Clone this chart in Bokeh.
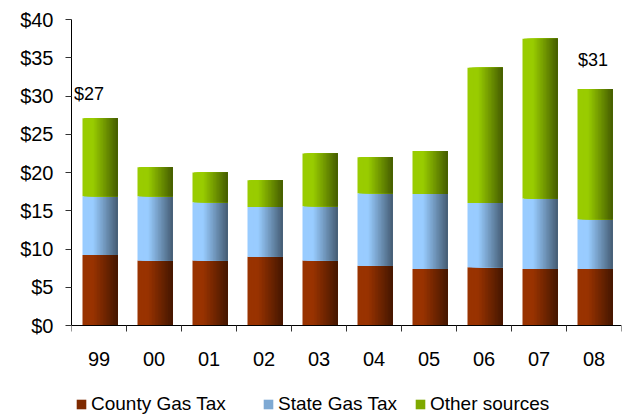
import numpy as np
from bokeh.plotting import figure
from bokeh.models import (ColumnDataSource, Range1d, FixedTicker, PrintfTickFormatter,
                          Legend, LegendItem)
from bokeh.core.properties import value
from bokeh.embed import file_html
from bokeh.resources import INLINE

# ---- data ----
categories = ["99", "00", "01", "02", "03", "04", "05", "06", "07", "08"]
county = [9.2, 8.5, 8.5, 9.0, 8.5, 7.8, 7.4, 7.6, 7.4, 7.4]
state = [7.7, 8.4, 7.6, 6.5, 7.1, 9.5, 9.8, 8.4, 9.2, 6.5]
other = [10.2, 3.8, 3.9, 3.5, 6.9, 4.7, 5.6, 17.7, 20.9, 17.0]
series_names = ["County Gas Tax", "State Gas Tax", "Other sources"]
y_ticks = [0, 5, 10, 15, 20, 25, 30, 35, 40]
callout_index = [0, 9]
callout_text = ["$27", "$31"]

# ---- style / layout ----
base_colors = [(153, 51, 0), (153, 204, 255), (153, 204, 0)]
FONT = "Liberation Sans"
N_STRIPS = 24
BAR_W = 0.64
BAR_SHIFT = 0.02
TOP_BORDER = 19
LEFT_BORDER = 71
PLOT_H = 306          # pixels for 0..40
FRAME_H = 396         # frame extends below zero to hold the legend
Y_MAX = 40
Y_MIN = -Y_MAX * (FRAME_H - PLOT_H) / PLOT_H

def shade(rgb, u):
    f = 1.0 if u < 0.3 else 1.0 - 0.55 * (u - 0.3) / 0.7
    r, g, b = (int(round(c * f)) for c in rgb)
    return "#%02x%02x%02x" % (r, g, b)

n = len(categories)
p = figure(width=LEFT_BORDER + 550 + 1, height=TOP_BORDER + FRAME_H,
           x_range=Range1d(0, n), y_range=Range1d(Y_MIN, Y_MAX),
           output_backend="svg", toolbar_location=None,
           min_border_left=LEFT_BORDER, min_border_right=1,
           min_border_top=TOP_BORDER, min_border_bottom=0)
p.outline_line_color = None
p.xgrid.visible = False
p.ygrid.visible = False
p.background_fill_color = "white"

stacks = [county, state, other]
bottoms = np.zeros(n)
renderers = []
sw = BAR_W / N_STRIPS
for s, vals in enumerate(stacks):
    vals = np.array(vals, dtype=float)
    tops = bottoms + vals
    xs, ws, bs, ts, cs = [], [], [], [], []
    for k in range(N_STRIPS):
        u = (k + 0.5) / N_STRIPS
        col = shade(base_colors[s], u)
        for i in range(n):
            left = i + 0.5 + BAR_SHIFT - BAR_W / 2 + k * sw
            right = i + 0.5 + BAR_SHIFT + BAR_W / 2
            xs.append((left + right) / 2)
            ws.append(right - left)
            bs.append(bottoms[i])
            ts.append(tops[i])
            cs.append(col)
    src = ColumnDataSource(dict(x=xs, w=ws, bottom=bs, top=ts, color=cs))
    r = p.vbar(x="x", bottom="bottom", top="top", width="w", source=src,
               fill_color="color", line_color=None)
    renderers.append(r)
    bottoms = tops

totals = bottoms
lab_src = ColumnDataSource(dict(
    x=[i + 0.5 for i in callout_index],
    y=[totals[i] for i in callout_index],
    text=callout_text,
    xo=[-10, -1],
    yo=[-24, -29],
))
p.text(x="x", y="y", text="text", source=lab_src, x_offset="xo", y_offset="yo",
       text_align="center", text_baseline="middle", text_font=value(FONT),
       text_font_size="18px", text_color="#000000")

# y axis
ya = p.yaxis[0]
ya.bounds = (0, Y_MAX)
ya.ticker = FixedTicker(ticks=y_ticks)
ya.formatter = PrintfTickFormatter(format="$%d")
ya.major_tick_in = 0
ya.major_tick_out = 6
ya.minor_tick_line_color = None
ya.major_label_standoff = 12
ya.major_label_text_font = FONT
ya.major_label_text_font_size = "20px"
ya.major_label_text_color = "#000000"
ya.axis_line_color = "#000000"
ya.major_tick_line_color = "#333333"

# x axis, pinned at zero
xa = p.xaxis[0]
xa.fixed_location = 0
xa.ticker = FixedTicker(ticks=[i + 0.5 for i in range(n)],
                        minor_ticks=list(range(n + 1)))
xa.major_label_overrides = {i + 0.5: c for i, c in enumerate(categories)}
xa.major_tick_line_color = None
xa.major_tick_in = 0
xa.major_tick_out = 6
xa.minor_tick_in = 0
xa.minor_tick_out = 6
xa.minor_tick_line_color = "#333333"
xa.major_label_standoff = 20
xa.major_label_text_font = FONT
xa.major_label_text_font_size = "20px"
xa.major_label_text_color = "#000000"
xa.axis_line_color = "#000000"

# legends
mid_k = N_STRIPS // 2
leg_x = [4, 191, 343]
for s in range(3):
    item = LegendItem(label=series_names[s], renderers=[renderers[s]], index=mid_k * n)
    leg = Legend(items=[item], location=(leg_x[s], 0), padding=0, margin=0,
                 spacing=0, label_standoff=4, glyph_width=12, glyph_height=12,
                 border_line_color=None, background_fill_alpha=0,
                 label_text_font=FONT, label_text_font_size="19px",
                 label_text_color="#000000")
    p.add_layout(leg, "center")

open("out.html", "w").write(file_html(p, INLINE))
